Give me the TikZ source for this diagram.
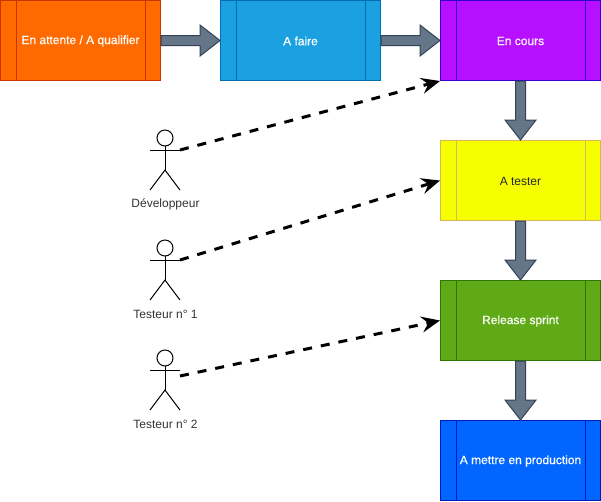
\documentclass[tikz,border=0pt]{standalone}
\usepackage{fontspec}
\setmainfont{Liberation Sans}
\newfontfamily\heavyfont[FakeBold=0.4]{Liberation Sans}
\usetikzlibrary{calc,arrows.meta}
\definecolor{cOrange}{HTML}{FF6A00}\definecolor{sOrange}{HTML}{C73500}
\definecolor{cBlue}{HTML}{1BA1E2}\definecolor{sBlue}{HTML}{006EAF}
\definecolor{cPurple}{HTML}{B70FFF}\definecolor{sPurple}{HTML}{3700CC}
\definecolor{cYellow}{HTML}{F5FF00}\definecolor{sYellow}{HTML}{D6B656}
\definecolor{cGreen}{HTML}{60A917}\definecolor{sGreen}{HTML}{2D7600}
\definecolor{cCobalt}{HTML}{0066FF}\definecolor{sCobalt}{HTML}{001DBC}
\definecolor{cArrow}{HTML}{647687}\definecolor{sArrow}{HTML}{314354}
\tikzset{
  procbox/.style={draw,rectangle,line width=.75pt,minimum width=120pt,minimum height=60pt,inner sep=0pt,anchor=center},
  boxtext/.style={font=\fontsize{9pt}{11pt}\selectfont,inner sep=0pt},
  heavytext/.style={font=\heavyfont\fontsize{9pt}{11pt}\selectfont,inner sep=0pt,text=white},
  actorlabel/.style={font=\fontsize{9pt}{11pt}\selectfont,text=black!80,inner sep=0pt},
  blockarrow/.style={draw=sArrow,fill=cArrow,line width=.75pt,line join=miter},
  dashline/.style={draw=black,line width=2.25pt,dash pattern=on 6.75pt off 6.75pt,-{Stealth[length=14pt,width=12pt,inset=5pt]}},
  stick/.style={draw=black,line width=.75pt}
}
\newcommand{\innerlines}[2]{%
  \draw[#2,line width=.75pt] ($(#1.north west)+(16,0)$) -- ($(#1.south west)+(16,0)$);
  \draw[#2,line width=.75pt] ($(#1.north east)+(-16,0)$) -- ($(#1.south east)+(-16,0)$);
}
\newcommand{\harrow}[2]{%
  \draw[blockarrow] ($(#1.east)+(0,-5)$) -- ($(#2.west)+(-20,-5)$) -- ($(#2.west)+(-20,-15.5)$) -- (#2.west) -- ($(#2.west)+(-20,15.5)$) -- ($(#2.west)+(-20,5)$) -- ($(#1.east)+(0,5)$) -- cycle;
}
\newcommand{\varrow}[2]{%
  \draw[blockarrow] ($(#1.south)+(-5,0)$) -- ($(#2.north)+(-5,-20)$) -- ($(#2.north)+(-15.5,-20)$) -- (#2.north) -- ($(#2.north)+(15.5,-20)$) -- ($(#2.north)+(5,-20)$) -- ($(#1.south)+(5,0)$) -- cycle;
}
\newcommand{\actorfig}[3]{%
  \coordinate (#1hand) at (180,#2+20);
  \coordinate (#1handl) at (150,#2+20);
  \coordinate (#1neck) at (165,#2+16);
  \coordinate (#1hip) at (165,#2+40);
  \coordinate (#1footl) at (150,#2+60);
  \coordinate (#1footr) at (180,#2+60);
  \draw[stick] (165,#2+8) circle[radius=8];
  \draw[stick] (#1neck) -- (#1hip);
  \draw[stick] (#1handl) -- (#1hand);
  \draw[stick] (#1footl) -- (#1hip) -- (#1footr);
  \node[actorlabel] (#1label) at (165.5,#2+74) {#3};
}
\begin{document}
\begin{tikzpicture}[x=.75pt,y=-.75pt]
\useasboundingbox (0,0) rectangle (601,501);
\node[procbox,fill=cOrange,draw=sOrange] (attente) at (80.5,40.5) {};
\node[procbox,fill=cBlue,draw=sBlue] (faire) at (300.5,40.5) {};
\node[procbox,fill=cPurple,draw=sPurple] (cours) at (520.5,40.5) {};
\node[procbox,fill=cYellow,draw=sYellow] (tester) at (520.5,180.5) {};
\node[procbox,fill=cGreen,draw=sGreen] (release) at (520.5,320.5) {};
\node[procbox,fill=cCobalt,draw=sCobalt] (prod) at (520.5,460.5) {};
\innerlines{attente}{sOrange}
\innerlines{faire}{sBlue}
\innerlines{cours}{sPurple}
\innerlines{tester}{sYellow}
\innerlines{release}{sGreen}
\innerlines{prod}{sCobalt}
\node[heavytext] (attenteT) at ($(attente.center)+(0,0.5)$) {En attente / A qualifier};
\node[heavytext] (faireT) at ($(faire.center)+(0,0.5)$) {A faire};
\node[heavytext] (coursT) at ($(cours.center)+(0,0.5)$) {En cours};
\node[boxtext,text=black!85] (testerT) at ($(tester.center)+(0,0.5)$) {A tester};
\node[heavytext] (releaseT) at ($(release.center)+(0,0.5)$) {Release sprint};
\node[heavytext] (prodT) at ($(prod.center)+(0,0.5)$) {A mettre en production};
\harrow{attente}{faire}
\harrow{faire}{cours}
\varrow{cours}{tester}
\varrow{tester}{release}
\varrow{release}{prod}
\actorfig{dev}{130}{Développeur}
\actorfig{tone}{240}{Testeur n° 1}
\actorfig{ttwo}{350}{Testeur n° 2}
\draw[dashline] (devhand) -- (cours.south west);
\draw[dashline] (tonehand) -- (tester.west);
\draw[dashline] (ttwohand) ++(0,6) -- (release.west);
\end{tikzpicture}
\end{document}
